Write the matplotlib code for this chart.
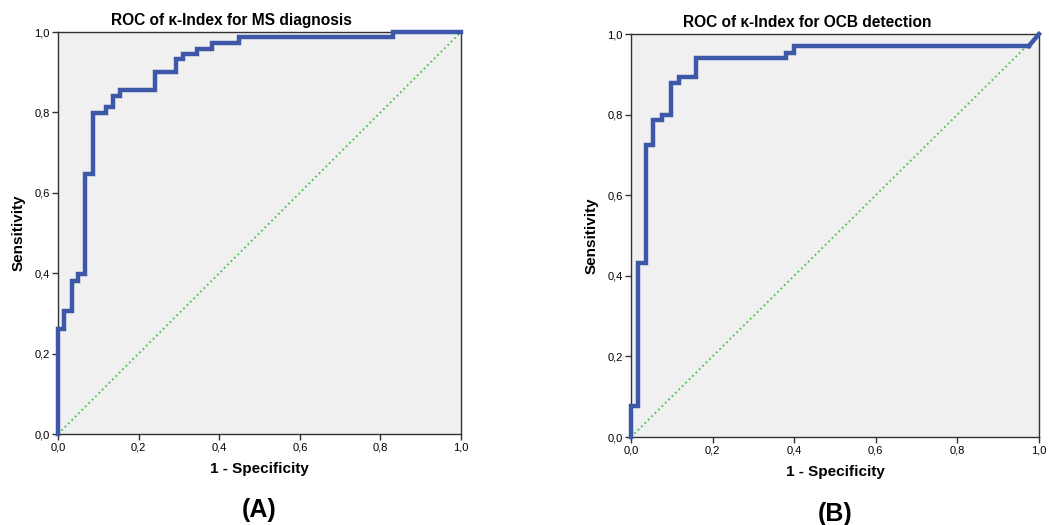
import numpy as np
import matplotlib
matplotlib.use("Agg")
from matplotlib import pyplot as plt
from matplotlib.ticker import FuncFormatter

plt.rcParams['font.family'] = ['Liberation Sans', 'DejaVu Sans']

# ROC points (1 - specificity, sensitivity)
fpr_a = [0.0, 0.0, 0.016, 0.034, 0.05, 0.067, 0.086, 0.12, 0.137, 0.154,
         0.24, 0.293, 0.309, 0.344, 0.381, 0.45, 0.83, 1.0]
tpr_a = [0.0, 0.262, 0.307, 0.38, 0.397, 0.648, 0.798, 0.813, 0.84, 0.855,
         0.90, 0.933, 0.945, 0.957, 0.973, 0.988, 1.0, 1.0]

fpr_b = [0.0, 0.0, 0.018, 0.037, 0.055, 0.077, 0.098, 0.117, 0.159, 0.38,
         0.40, 0.975, 1.0]
tpr_b = [0.0, 0.077, 0.432, 0.724, 0.787, 0.80, 0.879, 0.893, 0.94, 0.954,
         0.97, 0.97, 1.0]

titles = ['ROC of κ-Index for MS diagnosis', 'ROC of κ-Index for OCB detection']
panel_labels = ['(A)', '(B)']
ticks = [0.0, 0.2, 0.4, 0.6, 0.8, 1.0]

line_col = '#3d57a9'
ref_col = '#49c24a'

fig = plt.figure(figsize=(10.49, 5.25), dpi=100)
ax_a = fig.add_axes([0.0553, 0.1733, 0.3842, 0.7657])
ax_b = fig.add_axes([0.6015, 0.1676, 0.3889, 0.7676])

comma = FuncFormatter(lambda v, p: f"{v:.1f}".replace('.', ','))

for ax, title, lab in zip([ax_a, ax_b], titles, panel_labels):
    ax.set_facecolor('#f0f0f0')
    ax.plot([0, 1], [0, 1], ':', color=ref_col, lw=1.3, zorder=2)
    ax.set_xlim(0, 1)
    ax.set_ylim(0, 1)
    ax.set_xticks(ticks)
    ax.set_yticks(ticks)
    ax.xaxis.set_major_formatter(comma)
    ax.yaxis.set_major_formatter(comma)
    ax.tick_params(direction='out', length=4, width=1, labelsize=8,
                   color='#333333', pad=2)
    for s in ax.spines.values():
        s.set_color('#333333')
        s.set_linewidth(1)
    ax.set_title(title, fontsize=11.2, fontweight='bold', pad=5, x=0.431)
    ax.set_xlabel('1 - Specificity', fontsize=11, fontweight='bold', labelpad=7)
    ax.set_ylabel('Sensitivity', fontsize=11, fontweight='bold', labelpad=6)
    ax.text(0.5, -0.19, lab, transform=ax.transAxes, ha='center', va='center',
            fontsize=18, fontweight='bold')

ax_a.plot(fpr_a, tpr_a, drawstyle='steps-post', color=line_col, lw=3.2,
          solid_joinstyle='miter', zorder=3, clip_on=False)
ax_b.plot(fpr_b[:-1], tpr_b[:-1], drawstyle='steps-post', color=line_col, lw=3.2,
          solid_joinstyle='miter', zorder=3, clip_on=False)
ax_b.plot(fpr_b[-2:], tpr_b[-2:], color=line_col, lw=3.2, zorder=3, clip_on=False)

fig.savefig('out.png', dpi=100)
